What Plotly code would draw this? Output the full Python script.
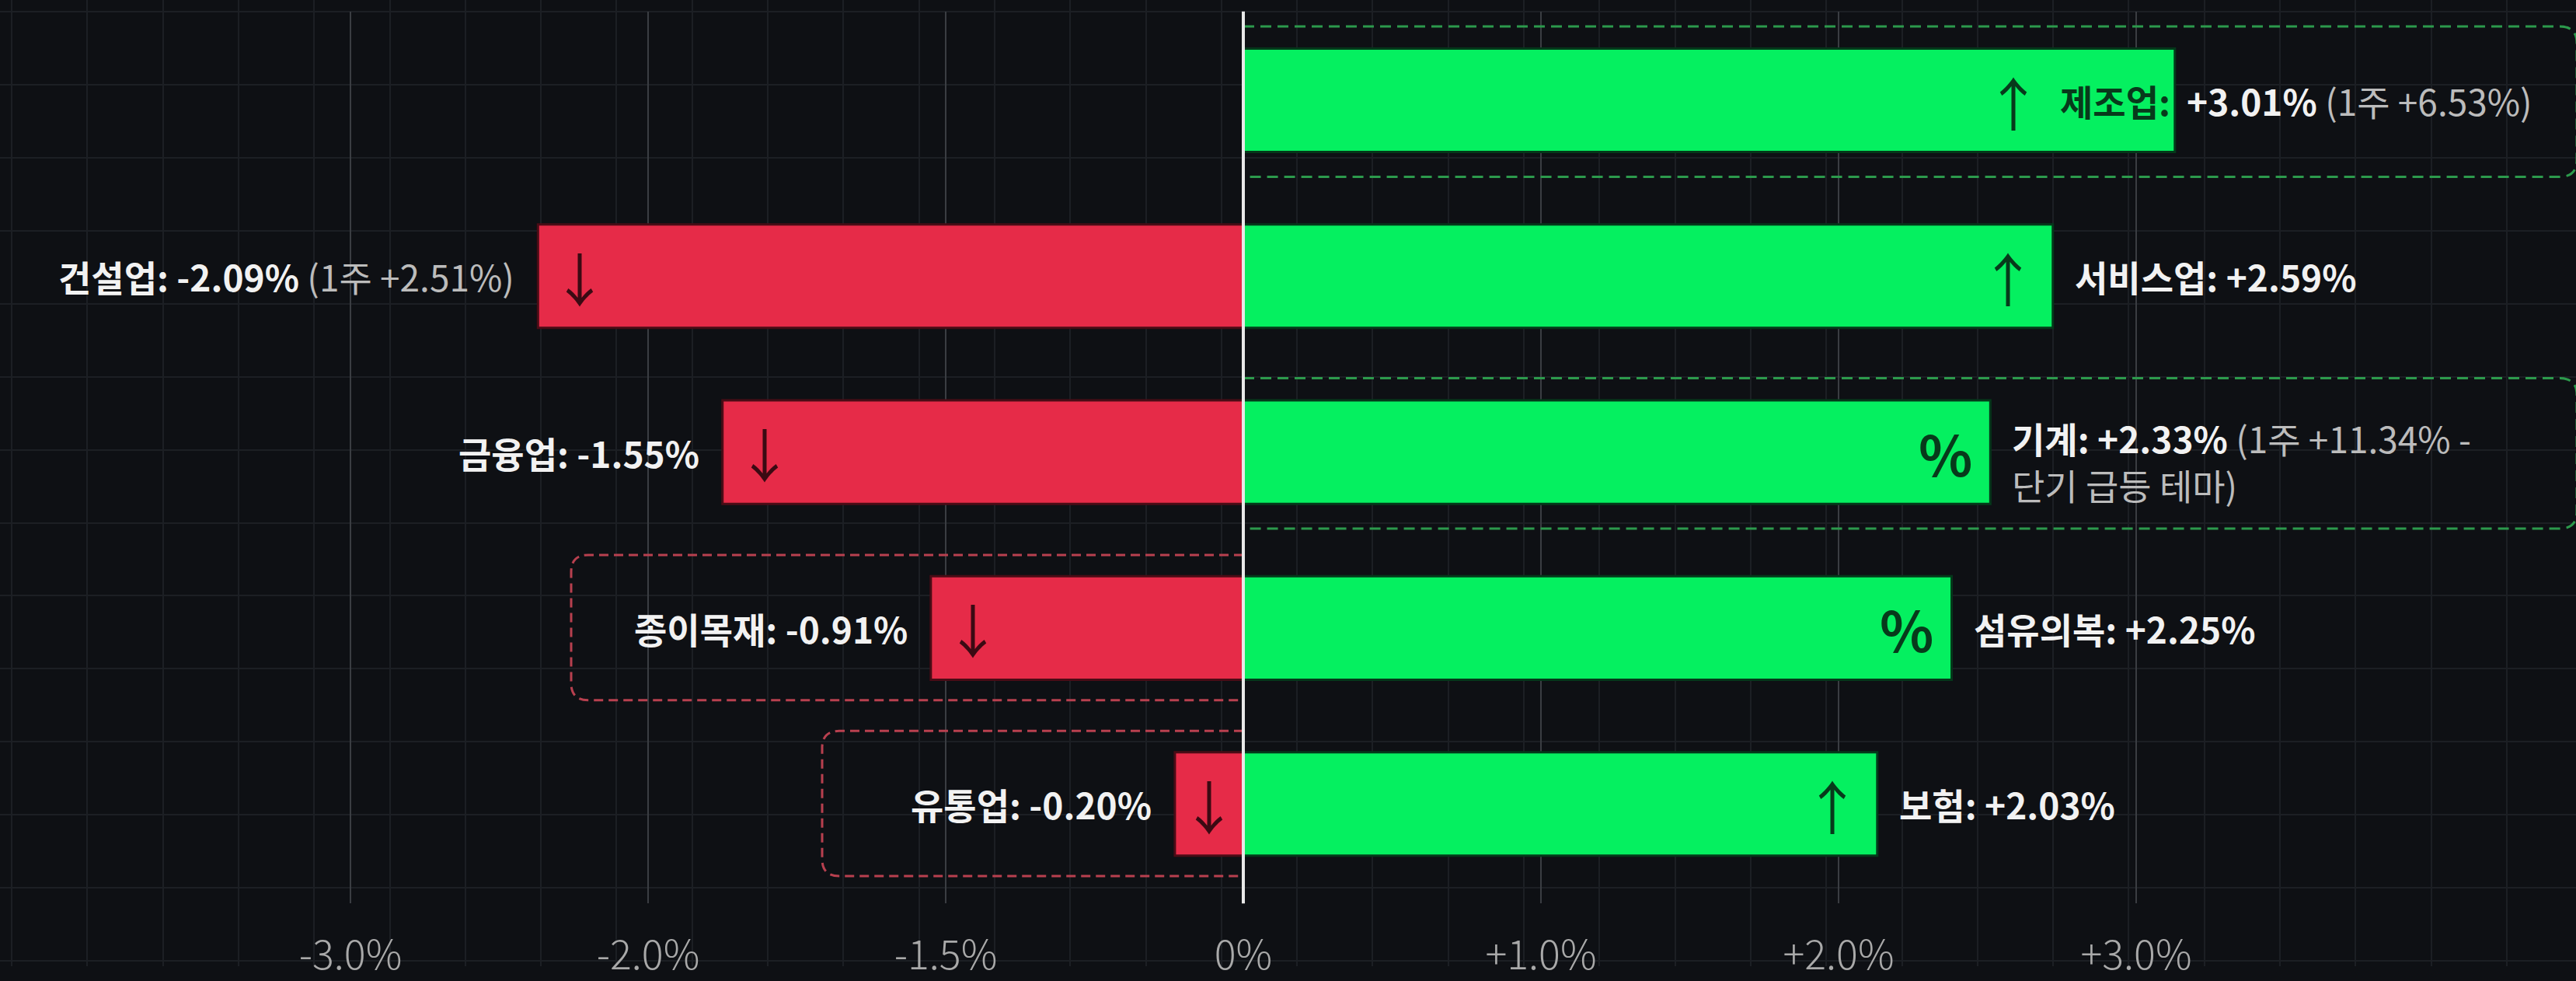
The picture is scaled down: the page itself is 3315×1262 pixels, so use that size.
import plotly.graph_objects as go

# ---------------- data ----------------
pos_rows = [0, 1, 2, 3, 4]
pos_names = ["제조업", "서비스업", "기계", "섬유의복", "보험"]
pos_values = [3.01, 2.59, 2.33, 2.25, 2.03]
pos_bar_len = [3.13, 2.72, 2.51, 2.38, 2.13]          # bar ends as read on the axis
pos_week = ["1주 +6.53%", None, "1주 +11.34% - 단기 급등 테마", None, None]
pos_icon = ["↑", "↑", "%", "%", "↑"]

neg_rows = [1, 2, 3, 4]
neg_names = ["건설업", "금융업", "종이목재", "유통업"]
neg_values = [-2.09, -1.55, -0.91, -0.20]
neg_bar_len = [-2.37, -1.75, -1.05, -0.23]
neg_week = ["1주 +2.51%", None, None, None]
neg_icon = ["↓", "↓", "↓", "↓"]

tick_pos = [-3, -2, -1, 0, 1, 2, 3]
tick_text = ["-3.0%", "-2.0%", "-1.5%", "0%", "+1.0%", "+2.0%", "+3.0%"]

green_boxes = ["제조업", "기계"]
red_boxes = ["종이목재", "유통업"]

# ---------------- style ----------------
W, H = 3315, 1262
PX_PER_UNIT = 383.0
ZERO_PX = 1600.0
ROW0_PX, ROW_STEP = 131.0, 229.75
PLOT_TOP, PLOT_BOT = 15.0, 1180.0

BG = "#0e1014"
GRID = "#1c1f24"
MAJOR = "#3a3d42"
GREEN = "#05f060"
RED = "#e62b48"
WHITE = "#f2f2f2"
GRAY = "#bcbcbc"
DARK_G = "#073a1b"
DARK_R = "#3b0a13"
FONT = "Noto Sans CJK KR, Noto Sans, sans-serif"
LABEL_SIZE = 46
ARROW_SIZE = 74
PCT_SIZE = 72
NAME_INSIDE = {"제조업"}

x_range = [-ZERO_PX / PX_PER_UNIT, (W - ZERO_PX) / PX_PER_UNIT]
y_range = [(PLOT_BOT - ROW0_PX) / ROW_STEP, (PLOT_TOP - ROW0_PX) / ROW_STEP]
y_dom = [1 - PLOT_BOT / H, 1 - PLOT_TOP / H]

fig = go.Figure()
# background "graph paper" subplot (drawn first)
fig.add_trace(go.Scatter(x=[], y=[], xaxis="x", yaxis="y", showlegend=False))

fig.add_trace(go.Bar(
    x=pos_bar_len, y=pos_rows, orientation="h", width=0.588,
    marker=dict(color=GREEN, line=dict(color="#04381a", width=3)),
    xaxis="x2", yaxis="y2", hoverinfo="skip", showlegend=False))
fig.add_trace(go.Bar(
    x=neg_bar_len, y=neg_rows, orientation="h", width=0.588,
    marker=dict(color=RED, line=dict(color="#4a0c16", width=3)),
    xaxis="x2", yaxis="y2", hoverinfo="skip", showlegend=False))

annotations = []


def fmt(v):
    return f"{v:+.2f}%"


def week_span(w):
    w = w.replace(" - ", " -<br>")
    parts = w.split("<br>")
    return "<br>".join(f"<span style='color:{GRAY}'>{('(' if i == 0 else '')}{p}{(')' if i == len(parts) - 1 else '')}</span>"
                       for i, p in enumerate(parts))


def icon_text(ic):
    return f"<b>{ic}</b>" if ic == "%" else ic


# positive labels
for r, n, v, L, wk, ic in zip(pos_rows, pos_names, pos_values, pos_bar_len, pos_week, pos_icon):
    icon_size = PCT_SIZE if ic == "%" else ARROW_SIZE
    if n in NAME_INSIDE:
        annotations.append(dict(x=L, y=r, xref="x2", yref="y2", xanchor="right", xshift=-4,
                                text=f"<b>{n}:</b>", showarrow=False,
                                font=dict(family=FONT, size=LABEL_SIZE, color=DARK_G)))
        annotations.append(dict(x=L, y=r, xref="x2", yref="y2", xanchor="center", xshift=-208,
                                text=ic, showarrow=False,
                                font=dict(family=FONT, size=icon_size, color=DARK_G)))
        txt = f"<b>{fmt(v)}</b>"
    else:
        half = L * PX_PER_UNIT / 2
        annotations.append(dict(x=L, y=r, xref="x2", yref="y2", xanchor="center",
                                xshift=-min(58, half), text=icon_text(ic), showarrow=False,
                                font=dict(family=FONT, size=icon_size, color=DARK_G)))
        txt = f"<b>{n}: {fmt(v)}</b>"
    yshift = 0
    if wk:
        if "<br>" in week_span(wk):
            sp = week_span(wk).split("<br>", 1)
            txt = txt + " " + sp[0] + "<br>" + sp[1]
            yshift = -11
        else:
            txt = txt + " " + week_span(wk)
    annotations.append(dict(x=L, y=r, xref="x2", yref="y2", xanchor="left", align="left",
                            xshift=13 if n in NAME_INSIDE else 26, yshift=yshift,
                            text=txt, showarrow=False,
                            font=dict(family=FONT, size=LABEL_SIZE, color=WHITE)))

# negative labels
for r, n, v, L, wk, ic in zip(neg_rows, neg_names, neg_values, neg_bar_len, neg_week, neg_icon):
    half = -L * PX_PER_UNIT / 2
    annotations.append(dict(x=L, y=r, xref="x2", yref="y2", xanchor="center",
                            xshift=min(54, half), text=ic, showarrow=False,
                            font=dict(family=FONT, size=ARROW_SIZE, color=DARK_R)))
    txt = f"<b>{n}: {fmt(v)}</b>"
    if wk:
        txt += " " + week_span(wk)
    annotations.append(dict(x=L, y=r, xref="x2", yref="y2", xanchor="right", align="right",
                            xshift=-28, text=txt, showarrow=False,
                            font=dict(family=FONT, size=LABEL_SIZE, color=WHITE)))

# highlight boxes (dashed, rounded outer corners)
rx = 22 / PX_PER_UNIT
ry = 22 / ROW_STEP
shapes = []
row_of = {**dict(zip(pos_names, pos_rows)), **dict(zip(neg_names, neg_rows))}
GREEN_BOX_RIGHT = (W + 1 - ZERO_PX) / PX_PER_UNIT
RED_BOX_LEFT = {"종이목재": (735 - ZERO_PX) / PX_PER_UNIT, "유통업": (1058 - ZERO_PX) / PX_PER_UNIT}
for n in green_boxes:
    r = row_of[n]
    t, b = r - 0.42, r + 0.435
    x1 = GREEN_BOX_RIGHT
    path = (f"M 0,{t} L {x1 - rx},{t} Q {x1},{t} {x1},{t + ry} "
            f"L {x1},{b - ry} Q {x1},{b} {x1 - rx},{b} L 0,{b}")
    shapes.append(dict(type="path", path=path, xref="x2", yref="y2", layer="above",
                       line=dict(color="#2c9a4c", width=3, dash="14px,8px")))
for n in red_boxes:
    r = row_of[n]
    t, b = r - 0.415, r + 0.41
    x0 = RED_BOX_LEFT[n]
    path = (f"M 0,{t} L {x0 + rx},{t} Q {x0},{t} {x0},{t + ry} "
            f"L {x0},{b - ry} Q {x0},{b} {x0 + rx},{b} L 0,{b}")
    shapes.append(dict(type="path", path=path, xref="x2", yref="y2", layer="above",
                       line=dict(color="#b8404f", width=3, dash="12px,7px")))

# zero line on top of bars
shapes.append(dict(type="line", xref="x2", yref="y2 domain", x0=0, x1=0, y0=0, y1=1,
                   layer="above", line=dict(color="#e8e8e8", width=4)))

fig.update_layout(
    width=W, height=H, margin=dict(l=0, r=0, t=0, b=0),
    paper_bgcolor=BG, plot_bgcolor="rgba(0,0,0,0)",
    barmode="overlay", showlegend=False,
    xaxis=dict(domain=[0, 1], range=[0, W], tick0=15, dtick=97.3, showgrid=True,
               gridcolor=GRID, gridwidth=2, showticklabels=False, zeroline=False,
               ticks="", showline=False, fixedrange=True, anchor="y"),
    yaxis=dict(domain=[0, 1], range=[H, 0], tick0=15, dtick=95.4, showgrid=True,
               gridcolor=GRID, gridwidth=2, showticklabels=False, zeroline=False,
               ticks="", showline=False, fixedrange=True, anchor="x"),
    xaxis2=dict(domain=[0, 1], range=x_range, anchor="y2", tickmode="array",
                tickvals=tick_pos, ticktext=tick_text, showgrid=True, gridcolor=MAJOR,
                gridwidth=2, zeroline=False, ticks="", showline=False,
                ticklabelstandoff=32,
                tickfont=dict(family=FONT, size=52, color="#a9a9a9", weight=300),
                fixedrange=True),
    yaxis2=dict(domain=y_dom, range=y_range, anchor="x2", showgrid=False,
                showticklabels=False, zeroline=False, ticks="", showline=False,
                fixedrange=True),
    annotations=annotations, shapes=shapes,
)

fig.write_html("out.html", config={"displayModeBar": False},
               post_script="document.body.style.margin='0';document.body.style.overflow='hidden';")
